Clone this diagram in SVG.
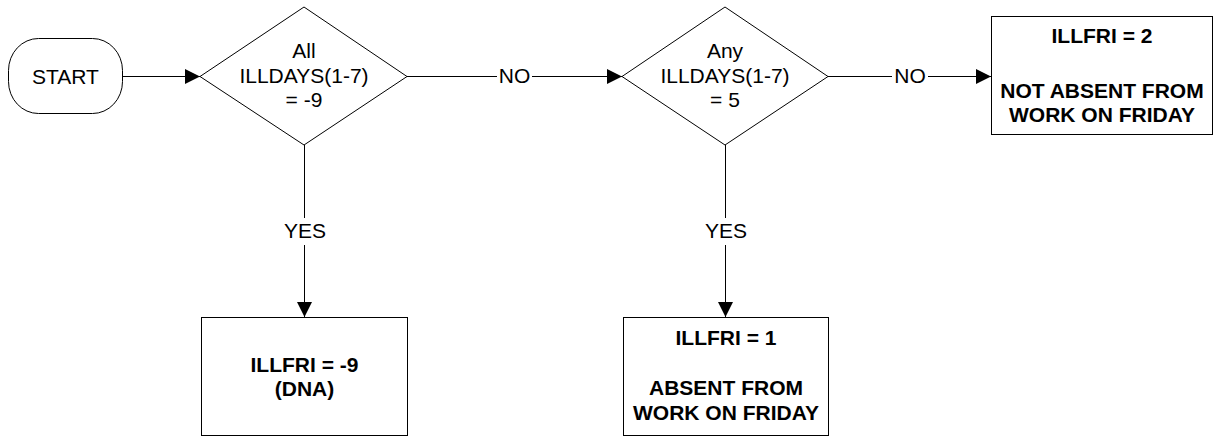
<svg xmlns="http://www.w3.org/2000/svg" width="1214" height="437" viewBox="0 0 1214 437">
<style>
.shape{fill:#fff;stroke:#000;stroke-width:1}
.conn{fill:none;stroke:#000;stroke-width:1}
.t{font-family:"Liberation Sans",Arial,sans-serif;font-size:21px;fill:#000;text-anchor:middle}
.b{font-weight:bold}
</style>
<defs>
<marker id="arr" markerWidth="16" markerHeight="16" refX="15" refY="7.5" orient="auto" markerUnits="userSpaceOnUse">
<path d="M0,0 L15,7.5 L0,15 Z" fill="#000"/>
</marker>
</defs>
<rect width="1214" height="437" fill="#fff"/>
<g id="connectors">
<line class="conn" x1="122" y1="76.5" x2="200" y2="76.5" marker-end="url(#arr)"/>
<line class="conn" x1="407" y1="76.5" x2="497" y2="76.5"/>
<line class="conn" x1="532" y1="76.5" x2="622" y2="76.5" marker-end="url(#arr)"/>
<line class="conn" x1="828" y1="76.5" x2="892" y2="76.5"/>
<line class="conn" x1="928" y1="76.5" x2="991" y2="76.5" marker-end="url(#arr)"/>
<line class="conn" x1="304.5" y1="145" x2="304.5" y2="218"/>
<line class="conn" x1="304.5" y1="245" x2="304.5" y2="317" marker-end="url(#arr)"/>
<line class="conn" x1="725.5" y1="145" x2="725.5" y2="218"/>
<line class="conn" x1="725.5" y1="245" x2="725.5" y2="317" marker-end="url(#arr)"/>
<text class="t" x="514.5" y="83">NO</text>
<text class="t" x="910" y="83">NO</text>
<text class="t" x="305" y="238">YES</text>
<text class="t" x="726" y="238">YES</text>
</g>
<g id="start">
<rect class="shape" x="8.5" y="38.5" width="114" height="75" rx="30" ry="32"/>
<text class="t" x="65.5" y="84">START</text>
</g>
<g id="decision1">
<polygon class="shape" points="200,76.5 304,7 407,76.5 304,145"/>
<text class="t" x="304" y="58">All</text>
<text class="t" x="304" y="82.5">ILLDAYS(1-7)</text>
<text class="t" x="304" y="107">= -9</text>
</g>
<g id="decision2">
<polygon class="shape" points="622,76.5 725,7 828,76.5 725,145"/>
<text class="t" x="725" y="58">Any</text>
<text class="t" x="725" y="82.5">ILLDAYS(1-7)</text>
<text class="t" x="725" y="107">= 5</text>
</g>
<g id="result-not-absent">
<rect class="shape" x="991.5" y="16.5" width="221" height="118"/>
<text class="t b" x="1102" y="43">ILLFRI = 2</text>
<text class="t b" x="1102" y="98">NOT ABSENT FROM</text>
<text class="t b" x="1102" y="121.5">WORK ON FRIDAY</text>
</g>
<g id="result-dna">
<rect class="shape" x="201.5" y="317.5" width="206" height="118"/>
<text class="t b" x="304.5" y="372">ILLFRI = -9</text>
<text class="t b" x="304.5" y="396">(DNA)</text>
</g>
<g id="result-absent">
<rect class="shape" x="623.5" y="317.5" width="205" height="118"/>
<text class="t b" x="726" y="345">ILLFRI = 1</text>
<text class="t b" x="726" y="395">ABSENT FROM</text>
<text class="t b" x="726" y="420">WORK ON FRIDAY</text>
</g>
</svg>
